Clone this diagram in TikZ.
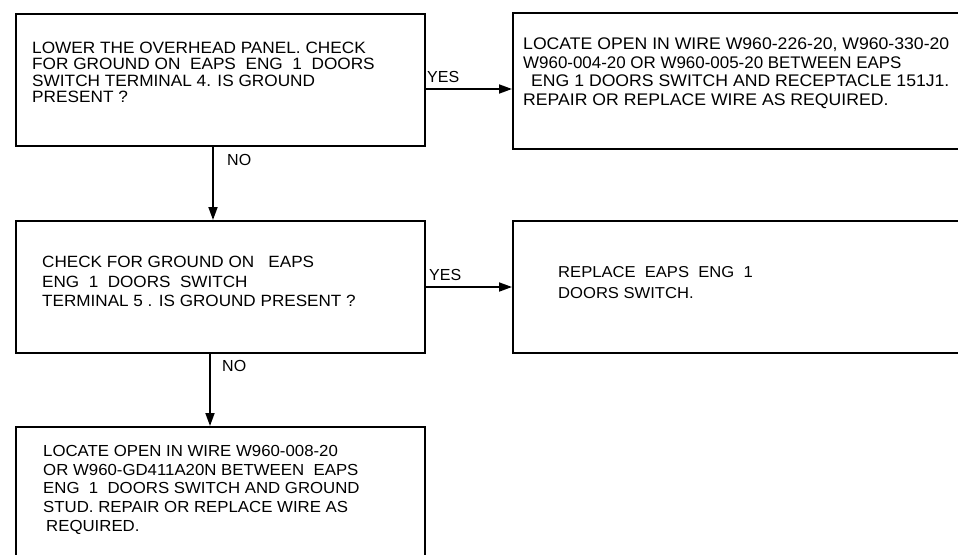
\documentclass[tikz,border=0pt]{standalone}
\usepackage{fontspec}
\usetikzlibrary{arrows.meta}
\newfontfamily\lab[FakeStretch=1.05]{Liberation Sans}
\newfontfamily\lbl{Liberation Sans}
\begin{document}
\begin{tikzpicture}[x=1pt,y=-1pt,
  boxx/.style={draw,line width=1.8pt,rectangle,inner sep=0pt,anchor=north west},
  txt/.style={inner sep=0pt,anchor=north west,align=left},
  lab/.style={inner sep=0pt,font=\lbl\fontsize{16}{16}\selectfont},
  arr/.style={line width=1.8pt,-{Triangle[length=13pt,width=9pt]}}]
\clip (0,0) rectangle (958,554);
\fill[white] (0,0) rectangle (958,554);
% boxes
\node[boxx,minimum width=409pt,minimum height=132pt] (b1) at (15,13) {};
\node[boxx,minimum width=460pt,minimum height=136pt] (b2) at (512,12) {};
\node[boxx,minimum width=409pt,minimum height=132pt] (b3) at (15,220) {};
\node[boxx,minimum width=460pt,minimum height=132pt] (b4) at (512,220) {};
\node[boxx,minimum width=409pt,minimum height=150pt] (b5) at (15,426) {};
% texts
\node[txt,font=\lab\fontsize{16.4}{16.5}\selectfont] (t1) at (32,41.5)
 {LOWER THE OVERHEAD PANEL. CHECK\\FOR GROUND ON~~EAPS~~ENG~~1~~DOORS\\SWITCH TERMINAL 4. IS GROUND\\PRESENT ?};
\node[txt,font=\lab\fontsize{16.8}{18.5}\selectfont] (t2) at (523,38)
 {LOCATE OPEN IN WIRE W960-226-20, W960-330-20\\\scalebox{0.96}[1]{W960-004-20 OR W960-005-20 BETWEEN EAPS}\\\hspace*{8pt}ENG 1 DOORS SWITCH AND RECEPTACLE 151J1.\\REPAIR OR REPLACE WIRE AS REQUIRED.};
\node[txt,font=\lab\fontsize{16.3}{19.5}\selectfont] (t3) at (42,256)
 {CHECK FOR GROUND ON~~~EAPS\\ENG~~1~~DOORS~~SWITCH\\TERMINAL 5 . IS GROUND PRESENT ?};
\node[txt,font=\lab\fontsize{15.8}{21}\selectfont] (t4) at (558,266.5)
 {REPLACE~~EAPS~~ENG~~1\\DOORS SWITCH.};
\node[txt,font=\lab\fontsize{16}{18.7}\selectfont] (t5) at (43,445)
 {LOCATE OPEN IN WIRE W960-008-20\\OR W960-GD411A20N BETWEEN~~EAPS\\ENG~~1~~DOORS SWITCH AND GROUND\\STUD. REPAIR OR REPLACE WIRE AS\\\hspace*{3pt}REQUIRED.};
% connectors
\coordinate (y1) at (0,89);
\coordinate (y2) at (0,287);
\coordinate (x1) at (213,0);
\coordinate (x2) at (210,0);
\draw[arr] (b1.east |- y1) -- (b2.west |- y1);
\draw[arr] (b3.east |- y2) -- (b4.west |- y2);
\draw[arr] (b1.south -| x1) -- (b3.north -| x1);
\draw[arr] (b3.south -| x2) -- (b5.north -| x2);
% labels
\node[lab,anchor=west] (yes1) at (427,76.5) {YES};
\node[lab,anchor=west] (yes2) at (429,275) {YES};
\node[lab,anchor=west] (no1) at (227,160) {NO};
\node[lab,anchor=west] (no2) at (222,366) {NO};
\end{tikzpicture}
\end{document}
